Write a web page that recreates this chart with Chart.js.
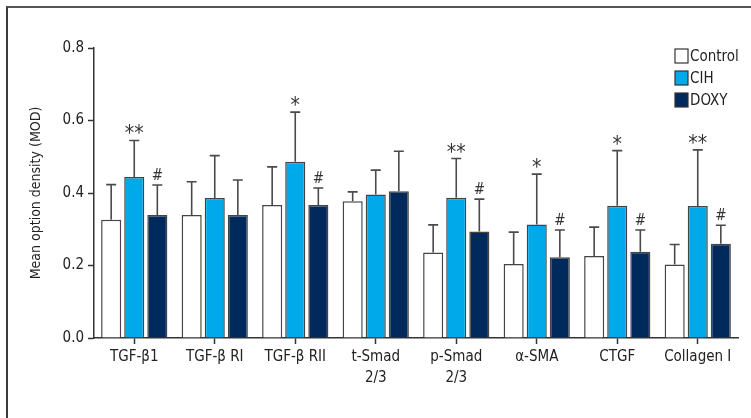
<!DOCTYPE html>
<html>
<head>
<meta charset="utf-8">
<script src="https://cdn.jsdelivr.net/npm/chart.js@4.4.1/dist/chart.umd.min.js"></script>
<style>
  html, body { margin: 0; padding: 0; background: #fff; }
  #wrap { position: relative; width: 751px; height: 418px; overflow: hidden; }
  #frame { position: absolute; left: 6px; top: 6px; width: 800px; height: 500px;
           border-left: 2px solid #3a3a3a; border-top: 2px solid #555; }
  canvas { position: absolute; left: 0; top: 0; }
</style>
</head>
<body>
<div id="wrap">
  <div id="frame"></div>
  <canvas id="G1" width="751" height="418"></canvas>
</div>
<script>
var categorias = ['TGF-β1', 'TGF-β RI', 'TGF-β RII', ['t-Smad', '2/3'], ['p-Smad', '2/3'], 'α-SMA', 'CTGF', 'Collagen I'];

var control    = [0.326, 0.339, 0.367, 0.377, 0.236, 0.204, 0.226, 0.203];
var control_sd = [0.097, 0.092, 0.105, 0.026, 0.076, 0.088, 0.080, 0.055];
var cih        = [0.444, 0.386, 0.486, 0.396, 0.387, 0.313, 0.365, 0.364];
var cih_sd     = [0.101, 0.117, 0.137, 0.067, 0.108, 0.139, 0.152, 0.155];
var doxy       = [0.339, 0.339, 0.367, 0.405, 0.294, 0.223, 0.238, 0.260];
var doxy_sd    = [0.083, 0.097, 0.047, 0.110, 0.089, 0.075, 0.060, 0.051];

var marcas_cih  = ['**', '', '*', '', '**', '*', '*', '**'];
var marcas_doxy = ['#', '', '#', '', '#', '#', '#', '#'];

var yTicks = [0.0, 0.2, 0.4, 0.6, 0.8];

var fuente = "'Liberation Sans Narrow', 'DejaVu Sans Condensed', 'Liberation Sans', sans-serif";
var borde = '#444';

var datos = [
    {label: 'Control', data: control, sd: control_sd, marcas: null, backgroundColor: '#ffffff'},
    {label: 'CIH', data: cih, sd: cih_sd, marcas: marcas_cih, backgroundColor: '#00aaea'},
    {label: 'DOXY', data: doxy, sd: doxy_sd, marcas: marcas_doxy, backgroundColor: '#002a5c'}
];
datos.forEach(function (d) {
    d.borderColor = borde;
    d.borderWidth = 1.5;
    d.categoryPercentage = 0.86;
    d.barPercentage = 0.87;
});

// error bars + significance marks
var barrasError = {
    id: 'barrasError',
    afterDatasetsDraw: function (chart) {
        var ctx = chart.ctx;
        var y = chart.scales.y;
        ctx.save();
        chart.data.datasets.forEach(function (ds, di) {
            var meta = chart.getDatasetMeta(di);
            meta.data.forEach(function (bar, i) {
                var top = y.getPixelForValue(ds.data[i] + ds.sd[i]);
                ctx.strokeStyle = '#4a4a4a';
                ctx.lineWidth = 1.6;
                ctx.beginPath();
                ctx.moveTo(bar.x, bar.y);
                ctx.lineTo(bar.x, top);
                ctx.moveTo(bar.x - 5, top);
                ctx.lineTo(bar.x + 5, top);
                ctx.stroke();
                if (ds.marcas && ds.marcas[i]) {
                    ctx.fillStyle = '#333';
                    ctx.textAlign = 'center';
                    ctx.textBaseline = 'alphabetic';
                    if (ds.marcas[i] === '#') {
                        ctx.font = '15px ' + fuente;
                        ctx.fillText('#', bar.x, top - 5);
                    } else {
                        ctx.font = '21px ' + fuente;
                        ctx.fillText(ds.marcas[i], bar.x, top);
                    }
                }
            });
        });
        ctx.restore();
    }
};

// legend in the top right corner
var leyenda = {
    id: 'leyenda',
    afterDraw: function (chart) {
        var ctx = chart.ctx;
        ctx.save();
        chart.data.datasets.forEach(function (ds, i) {
            var yy = 49 + i * 22;
            ctx.fillStyle = ds.backgroundColor;
            ctx.fillRect(675, yy, 13, 14);
            ctx.strokeStyle = '#333';
            ctx.lineWidth = 1.2;
            ctx.strokeRect(675, yy, 13, 14);
            ctx.fillStyle = '#222';
            ctx.font = '15px ' + fuente;
            ctx.textAlign = 'left';
            ctx.textBaseline = 'middle';
            ctx.fillText(ds.label, 690, yy + 8);
        });
        ctx.restore();
    }
};

var grafico = new Chart(document.getElementById('G1').getContext('2d'), {
    type: 'bar',
    data: {labels: categorias, datasets: datos},
    options: {
        responsive: false,
        animation: false,
        layout: {padding: {left: 28, right: 13, top: 48, bottom: 0}},
        plugins: {legend: {display: false}, tooltip: {enabled: false}},
        scales: {
            x: {
                grid: {display: true, drawOnChartArea: false, drawTicks: true, tickLength: 6, tickColor: '#333', tickWidth: 1.5, offset: false},
                border: {display: true, color: '#333', width: 1.5},
                ticks: {color: '#222', font: {family: fuente, size: 15, lineHeight: 1.4}, padding: 3, maxRotation: 0, autoSkip: false},
                afterFit: function (s) { s.height = 80; }
            },
            y: {
                min: 0, max: 0.8,
                afterBuildTicks: function (s) { s.ticks = yTicks.map(function (v) { return {value: v}; }); },
                grid: {display: true, drawOnChartArea: false, drawTicks: true, tickLength: 6, tickColor: '#333', tickWidth: 1.5},
                border: {display: true, color: '#333', width: 1.5},
                ticks: {color: '#222', font: {family: fuente, size: 15}, padding: 4,
                        callback: function (v) { return Number(v).toFixed(1); }},
                title: {display: true, text: 'Mean option density (MOD)', color: '#222', font: {family: fuente, size: 14}, padding: {top: 0, bottom: 0}},
                afterFit: function (s) { s.width = 66; }
            }
        }
    },
    plugins: [barrasError, leyenda]
});
</script>
</body>
</html>
